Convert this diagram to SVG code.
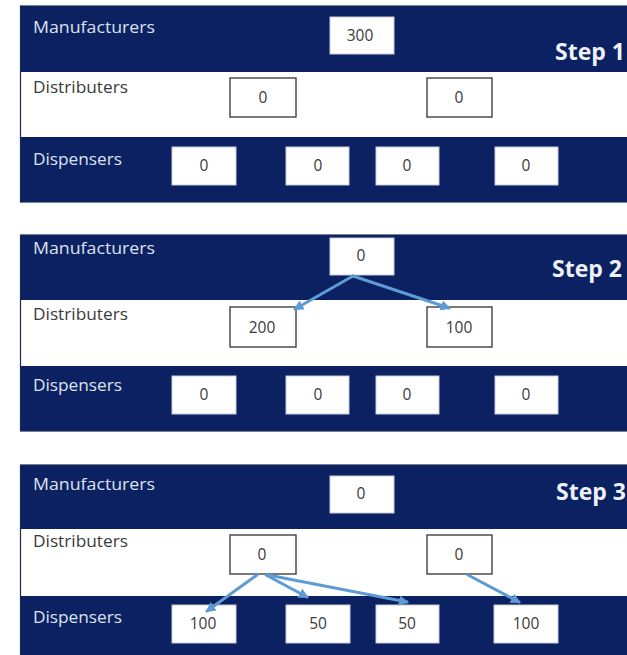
<svg xmlns="http://www.w3.org/2000/svg" width="627" height="655" viewBox="0 0 627 655">
<style>
.bg{fill:#ffffff}
.navy{fill:#0b2161}
.white{fill:#ffffff}
.frame{fill:none;stroke:#1a2a55;stroke-width:1.2}
.lblN{font-family:"Open Sans","Liberation Sans",sans-serif;font-size:16px;fill:#dde2ee}
.lblW{font-family:"Open Sans","Liberation Sans",sans-serif;font-size:16px;fill:#3a3a3a}
.step{font-family:"Open Sans","Liberation Sans",sans-serif;font-size:23px;font-weight:bold;fill:#eef1f7}
.boxN{fill:#ffffff;stroke:#c8ccd6;stroke-width:1}
.boxW{fill:#ffffff;stroke:#404040;stroke-width:1.4}
.num{font-family:"Open Sans","Liberation Sans",sans-serif;font-size:15.5px;fill:#3a3a3a;text-anchor:middle}
.arrow{fill:none;stroke:#5e9ad6;stroke-width:3;stroke-linecap:round;marker-end:url(#ah)}
</style>
<defs>
<marker id="ah" viewBox="0 0 10 10" refX="8" refY="5" markerWidth="3.4" markerHeight="3.4" orient="auto">
<path d="M0,0 L10,5 L0,10 z" fill="#5e9ad6"/>
</marker>
</defs>
<rect class="bg" x="0" y="0" width="627" height="655"/>

<!-- Panel 1 -->
<g id="panel1">
<rect class="navy" x="20.5" y="6" width="610" height="66"/>
<rect class="white" x="20.5" y="72" width="610" height="65"/>
<rect class="navy" x="20.5" y="137" width="610" height="65"/>
<rect class="frame" x="20.5" y="6" width="610" height="196"/>
<text class="lblN" x="33" y="33" textLength="122" lengthAdjust="spacingAndGlyphs">Manufacturers</text>
<text class="lblW" x="33" y="93" textLength="95" lengthAdjust="spacingAndGlyphs">Distributers</text>
<text class="lblN" x="33" y="165" textLength="89" lengthAdjust="spacingAndGlyphs">Dispensers</text>
<text class="step" x="555" y="60">Step 1</text>
<g id="p1-man"><rect class="boxN" x="330" y="17" width="64" height="37"/><text class="num" x="360" y="41">300</text></g>
<g id="p1-dist1"><rect class="boxW" x="230" y="78" width="66" height="39"/><text class="num" x="263" y="103">0</text></g>
<g id="p1-dist2"><rect class="boxW" x="427" y="78" width="65" height="39"/><text class="num" x="459" y="103">0</text></g>
<g id="p1-disp1"><rect class="boxN" x="172" y="147" width="64" height="38"/><text class="num" x="204" y="171">0</text></g>
<g id="p1-disp2"><rect class="boxN" x="286" y="147" width="63" height="38"/><text class="num" x="318" y="171">0</text></g>
<g id="p1-disp3"><rect class="boxN" x="376" y="147" width="63" height="38"/><text class="num" x="407" y="171">0</text></g>
<g id="p1-disp4"><rect class="boxN" x="495" y="147" width="63" height="38"/><text class="num" x="526" y="171">0</text></g>
</g>

<!-- Panel 2 -->
<g id="panel2">
<rect class="navy" x="20.5" y="235" width="610" height="65"/>
<rect class="white" x="20.5" y="300" width="610" height="66"/>
<rect class="navy" x="20.5" y="366" width="610" height="65"/>
<rect class="frame" x="20.5" y="235" width="610" height="196"/>
<text class="lblN" x="33" y="254" textLength="122" lengthAdjust="spacingAndGlyphs">Manufacturers</text>
<text class="lblW" x="33" y="320" textLength="95" lengthAdjust="spacingAndGlyphs">Distributers</text>
<text class="lblN" x="33" y="391" textLength="89" lengthAdjust="spacingAndGlyphs">Dispensers</text>
<text class="step" x="552" y="277">Step 2</text>
<g id="p2-man"><rect class="boxN" x="330" y="238" width="64" height="37"/><text class="num" x="361" y="261">0</text></g>
<g id="p2-dist1"><rect class="boxW" x="230" y="307" width="66" height="40"/><text class="num" x="262" y="333">200</text></g>
<g id="p2-dist2"><rect class="boxW" x="427" y="307" width="65" height="40"/><text class="num" x="459" y="333">100</text></g>
<g id="p2-disp1"><rect class="boxN" x="172" y="376" width="64" height="38"/><text class="num" x="204" y="400">0</text></g>
<g id="p2-disp2"><rect class="boxN" x="286" y="376" width="63" height="38"/><text class="num" x="318" y="400">0</text></g>
<g id="p2-disp3"><rect class="boxN" x="376" y="376" width="63" height="38"/><text class="num" x="407" y="400">0</text></g>
<g id="p2-disp4"><rect class="boxN" x="495" y="376" width="63" height="38"/><text class="num" x="526" y="400">0</text></g>
</g>

<!-- Panel 3 -->
<g id="panel3">
<rect class="navy" x="20.5" y="465" width="610" height="64"/>
<rect class="white" x="20.5" y="529" width="610" height="67"/>
<rect class="navy" x="20.5" y="596" width="610" height="65"/>
<rect class="frame" x="20.5" y="465" width="610" height="196"/>
<text class="lblN" x="33" y="490" textLength="122" lengthAdjust="spacingAndGlyphs">Manufacturers</text>
<text class="lblW" x="33" y="547" textLength="95" lengthAdjust="spacingAndGlyphs">Distributers</text>
<text class="lblN" x="33" y="623" textLength="89" lengthAdjust="spacingAndGlyphs">Dispensers</text>
<text class="step" x="556" y="500">Step 3</text>
<g id="p3-man"><rect class="boxN" x="330" y="476" width="64" height="37"/><text class="num" x="361" y="499">0</text></g>
<g id="p3-dist1"><rect class="boxW" x="230" y="535" width="66" height="39"/><text class="num" x="262" y="560">0</text></g>
<g id="p3-dist2"><rect class="boxW" x="427" y="535" width="65" height="39"/><text class="num" x="459" y="560">0</text></g>
<g id="p3-disp1"><rect class="boxN" x="172" y="605" width="64" height="38"/><text class="num" x="203" y="629">100</text></g>
<g id="p3-disp2"><rect class="boxN" x="286" y="605" width="64" height="38"/><text class="num" x="318" y="629">50</text></g>
<g id="p3-disp3"><rect class="boxN" x="376" y="605" width="63" height="38"/><text class="num" x="407" y="629">50</text></g>
<g id="p3-disp4"><rect class="boxN" x="494" y="605" width="64" height="38"/><text class="num" x="526" y="629">100</text></g>
</g>

<g id="connectors">
<line class="arrow" x1="353" y1="276" x2="295" y2="309"/>
<line class="arrow" x1="353" y1="276" x2="449" y2="308"/>
<line class="arrow" x1="257" y1="575" x2="207" y2="611"/>
<line class="arrow" x1="266" y1="575" x2="307" y2="597"/>
<line class="arrow" x1="268" y1="575" x2="407" y2="602"/>
<line class="arrow" x1="468" y1="575" x2="519" y2="602"/>
</g>
</svg>
